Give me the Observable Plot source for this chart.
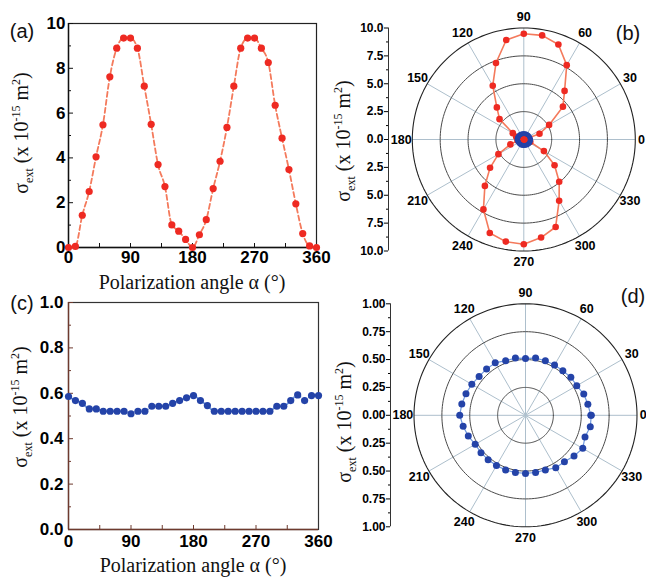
<!DOCTYPE html>
<html><head><meta charset="utf-8">
<script src="https://cdn.jsdelivr.net/npm/d3@7"></script>
<script src="https://cdn.jsdelivr.net/npm/@observablehq/plot@0.6"></script>
<style>
html,body{margin:0;padding:0;background:#fff;}
#fig{position:relative;width:646px;height:577px;overflow:hidden;background:#fff;}
.panel{position:absolute;}
.panel svg{max-width:none !important;}
.ytitle{position:absolute;transform:translate(-50%,-50%) rotate(-90deg);white-space:nowrap;font-family:"Liberation Serif","Times New Roman",serif;font-size:20px;color:#111;line-height:1;z-index:5;}
.ytitle sub,.ytitle sup{font-size:12px;line-height:0;}
.xtitle{position:absolute;white-space:nowrap;font-family:"Liberation Serif","Times New Roman",serif;font-size:20px;line-height:20px;transform:translateX(-50%);color:#111;z-index:5;}
.tag{position:absolute;font-family:"Liberation Sans",Arial,sans-serif;font-size:20px;line-height:20px;transform:translate(-50%,-50%);color:#111;z-index:5;}
</style></head><body><div id="fig"></div><script>
// ---------- data ----------
const anglesDeg = [0,10,20,30,40,50,60,70,80,90,100,110,120,130,140,150,160,170,180,190,200,210,220,230,240,250,260,270,280,290,300,310,320,330,340,350,360];
// (a) extinction cross-section, x 10^-15 m^2
const sigmaA = [0.0,0.05,1.44,2.5,4.05,5.48,7.62,8.9,9.35,9.35,8.9,7.2,5.5,3.7,2.72,1.01,0.73,0.36,0.0,0.57,1.24,2.63,3.85,5.36,7.2,8.9,9.35,9.35,8.9,8.26,6.35,4.88,3.48,1.95,0.62,0.07,0.0];
// (b) same quantity
const sigmaB = [0.0,0.05,1.5,2.62,4.58,5.69,7.7,9.07,9.48,9.49,9.06,7.3,5.57,3.76,2.84,1.14,0.73,0.36,0.0,0.57,1.28,2.63,3.95,5.43,7.24,8.92,9.3,9.4,8.93,8.35,6.34,4.94,3.6,2.08,0.62,0.07,0.0];
// (c)/(d) extinction cross-section, x 10^-15 m^2
const sigmaC = [0.586,0.568,0.556,0.531,0.531,0.521,0.521,0.521,0.521,0.51,0.521,0.521,0.543,0.543,0.543,0.556,0.568,0.58,0.59,0.568,0.546,0.521,0.521,0.521,0.521,0.521,0.521,0.521,0.521,0.521,0.543,0.543,0.568,0.593,0.568,0.59,0.59];
const xTickLabels = [0,90,180,270,360];
const xInnerTicks = [45,90,135,180,225,270,315];
const yMajorA = [0,2,4,6,8,10];
const yMinorA = [1,3,5,7,9];
const yMajorC = [0,0.2,0.4,0.6,0.8,1.0];
const yMinorC = [0.1,0.3,0.5,0.7,0.9];
const polarAngleLabels = [0,30,60,90,120,150,180,210,240,270,300,330];
const ringsB = [2.5,5,7.5];
const ringsD = [0.25,0.5,0.75];
const polarMajorB = [-10,-7.5,-5,-2.5,0,2.5,5,7.5,10];
const polarMinorB = [-8.75,-6.25,-3.75,-1.25,1.25,3.75,6.25,8.75];
const polarMajorD = [-1,-0.75,-0.5,-0.25,0,0.25,0.5,0.75,1];
const polarMinorD = [-0.875,-0.625,-0.375,-0.125,0.125,0.375,0.625,0.875];

const RED = "#ee2a22", RED_LINE = "#f47a5c", BLUE = "#2443a8", BLUE_LINE = "#6f98de";

function cartesian(o) {
  const data = anglesDeg.map((a, i) => ({a, v: o.values[i]}));
  const fw = o.width - o.ml - o.mr, fh = o.height - o.mt - o.mb;
  return Plot.plot({
    width: o.width, height: o.height,
    marginTop: o.mt, marginBottom: o.mb, marginLeft: o.ml, marginRight: o.mr,
    x: {domain: [0, 360]}, y: {domain: o.yDomain},
    style: {fontFamily: "'Liberation Sans', Arial, sans-serif", fontSize: "17px", fontWeight: "bold", background: "none", color: "#000", overflow: "visible"},
    marks: [
      Plot.frame({stroke: o.frameColor, strokeWidth: 1.2}),
      Plot.ruleX([0], {stroke: o.axisColor, strokeWidth: 1.4}),
      Plot.ruleY([o.yDomain[0]], {stroke: o.axisColor, strokeWidth: 1.4}),
      Plot.ruleX(xInnerTicks, {stroke: o.axisColor, insetTop: fh - 4}),
      Plot.ruleY(o.yMajor, {stroke: o.axisColor, insetRight: fw - 5}),
      Plot.ruleY(o.yMinor, {stroke: o.axisColor, insetRight: fw - 3}),
      Plot.line(data, {x: "a", y: "v", stroke: o.lineColor, strokeWidth: 1.8, strokeDasharray: "5,3", curve: "monotone-x"}),
      Plot.dot(data, {x: "a", y: "v", r: 3.6, fill: o.dotColor}),
      Plot.axisX({ticks: xTickLabels, tickSize: 0, tickPadding: o.xPad, label: null}),
      Plot.axisY({ticks: o.yMajor, tickSize: 0, tickPadding: o.yPad, tickFormat: o.yFmt, label: null})
    ]
  });
}

function polar(o) {
  const R = o.R;
  const k = (o.height - o.mt - o.mb) / (2 * R);
  const xd = [-(o.cx - o.ml) / k, (o.width - o.cx) / k];
  const rad = Math.PI / 180;
  const X = d => d.r * Math.cos(d.a * rad), Y = d => d.r * Math.sin(d.a * rad);
  const ringPts = o.rings.flatMap(rv => d3.range(0, 361, 2).map(a => ({a, r: rv, ring: rv})));
  const outerPts = d3.range(0, 361, 2).map(a => ({a, r: R}));
  const spokes = polarAngleLabels.map(a => ({a, r: R}));
  const labels = polarAngleLabels.map(a => ({a, r: (a === 0 ? 1.055 : 1.1) * R}));
  const marks = [
    Plot.link(spokes, {x1: 0, y1: 0, x2: X, y2: Y, stroke: "#adbfcc", strokeWidth: 1}),
    Plot.line(ringPts, {x: X, y: Y, z: "ring", stroke: "#4a4a4a", strokeWidth: 1}),
    Plot.line(outerPts, {x: X, y: Y, stroke: "#222", strokeWidth: 1.1}),
    Plot.ruleX([xd[0]], {y1: -R, y2: R, stroke: "#333", strokeWidth: 1}),
    Plot.axisY({ticks: o.major, tickFormat: o.fmt, tickSize: 4, tickPadding: 1, label: null}),
    Plot.axisY({ticks: o.minor, tickFormat: () => "", tickSize: 2, label: null}),
    Plot.text(labels, {x: X, y: Y, text: d => String(d.a), fontSize: 12.5})
  ];
  for (const s of o.series) {
    const data = anglesDeg.map((a, i) => ({a, r: s.values[i]}));
    marks.push(Plot.line(data, {x: X, y: Y, stroke: s.line, strokeWidth: s.lw, strokeDasharray: s.dash}));
    marks.push(Plot.dot(s.filter ? data.filter(s.filter) : data, {x: X, y: Y, r: s.r, fill: s.fill}));
  }
  return Plot.plot({
    width: o.width, height: o.height,
    marginTop: o.mt, marginBottom: o.mb, marginLeft: o.ml, marginRight: 0,
    x: {domain: xd, axis: null}, y: {domain: [-R, R]},
    style: {fontFamily: "'Liberation Sans', Arial, sans-serif", fontSize: "12px", fontWeight: "bold", background: "none", color: "#000", overflow: "visible", maxWidth: "none"},
    marks
  });
}

const fig = document.getElementById("fig");
function place(el, left, top, w) {
  const d = document.createElement("div");
  d.className = "panel"; d.style.left = left + "px"; d.style.top = top + "px"; d.style.width = w + "px";
  d.appendChild(el); fig.appendChild(d);
}

place(cartesian({values: sigmaA, yDomain: [0, 10], yMajor: yMajorA, yMinor: yMinorA, yFmt: d => String(d),
  dotColor: RED, lineColor: RED_LINE, axisColor: "#111", frameColor: "#222",
  width: 330, height: 290, mt: 23, mb: 43, ml: 68, mr: 14, xPad: 3, yPad: 3}), 0, 0, 330);

place(cartesian({values: sigmaC, yDomain: [0, 1], yMajor: yMajorC, yMinor: yMinorC, yFmt: d => d.toFixed(1),
  dotColor: BLUE, lineColor: BLUE_LINE, axisColor: "#6e3a2e", frameColor: "#333",
  width: 330, height: 287, mt: 12, mb: 48, ml: 68, mr: 12, xPad: 5, yPad: 5}), 0, 290, 330);

place(polar({R: 10, rings: ringsB, major: polarMajorB, minor: polarMinorB, fmt: d => Math.abs(d).toFixed(1),
  width: 330, height: 290, mt: 27.5, mb: 39.5, ml: 58, cx: 193.3,
  series: [
    {values: sigmaB, line: RED_LINE, lw: 1.6, fill: RED, r: 3.3},
    {values: sigmaC, line: BLUE, lw: 1, fill: BLUE, r: 2.6},
    {values: sigmaB, line: "none", lw: 0, fill: RED, r: 3, filter: d => d.r < 0.2}
  ]}), 330, 0, 330);

place(polar({R: 1, rings: ringsD, major: polarMajorD, minor: polarMinorD, fmt: d => Math.abs(d).toFixed(2),
  width: 330, height: 287, mt: 13.3, mb: 50.7, ml: 60, cx: 195,
  series: [
    {values: sigmaC, line: BLUE_LINE, lw: 1.2, fill: BLUE, r: 3.5}
  ]}), 330, 290, 330);

function addHTML(cls, html, left, top) {
  const d = document.createElement("div");
  d.className = cls; d.innerHTML = html;
  d.style.left = left + "px"; d.style.top = top + "px";
  fig.appendChild(d);
}
const yTitle = "σ<sub>ext</sub>&nbsp;(x 10<sup>-15</sup> m<sup>2</sup>)";
addHTML("ytitle", yTitle, 21, 133);
addHTML("ytitle", yTitle, 20, 407);
addHTML("ytitle", yTitle, 343, 141);
addHTML("ytitle", yTitle, 344, 422);
addHTML("xtitle", "Polarization angle α (°)", 192, 272);
addHTML("xtitle", "Polarization angle α (°)", 193, 555);
addHTML("tag", "(a)", 22, 31);
addHTML("tag", "(b)", 628, 33);
addHTML("tag", "(c)", 22, 303);
addHTML("tag", "(d)", 633, 296);
</script></body></html>
